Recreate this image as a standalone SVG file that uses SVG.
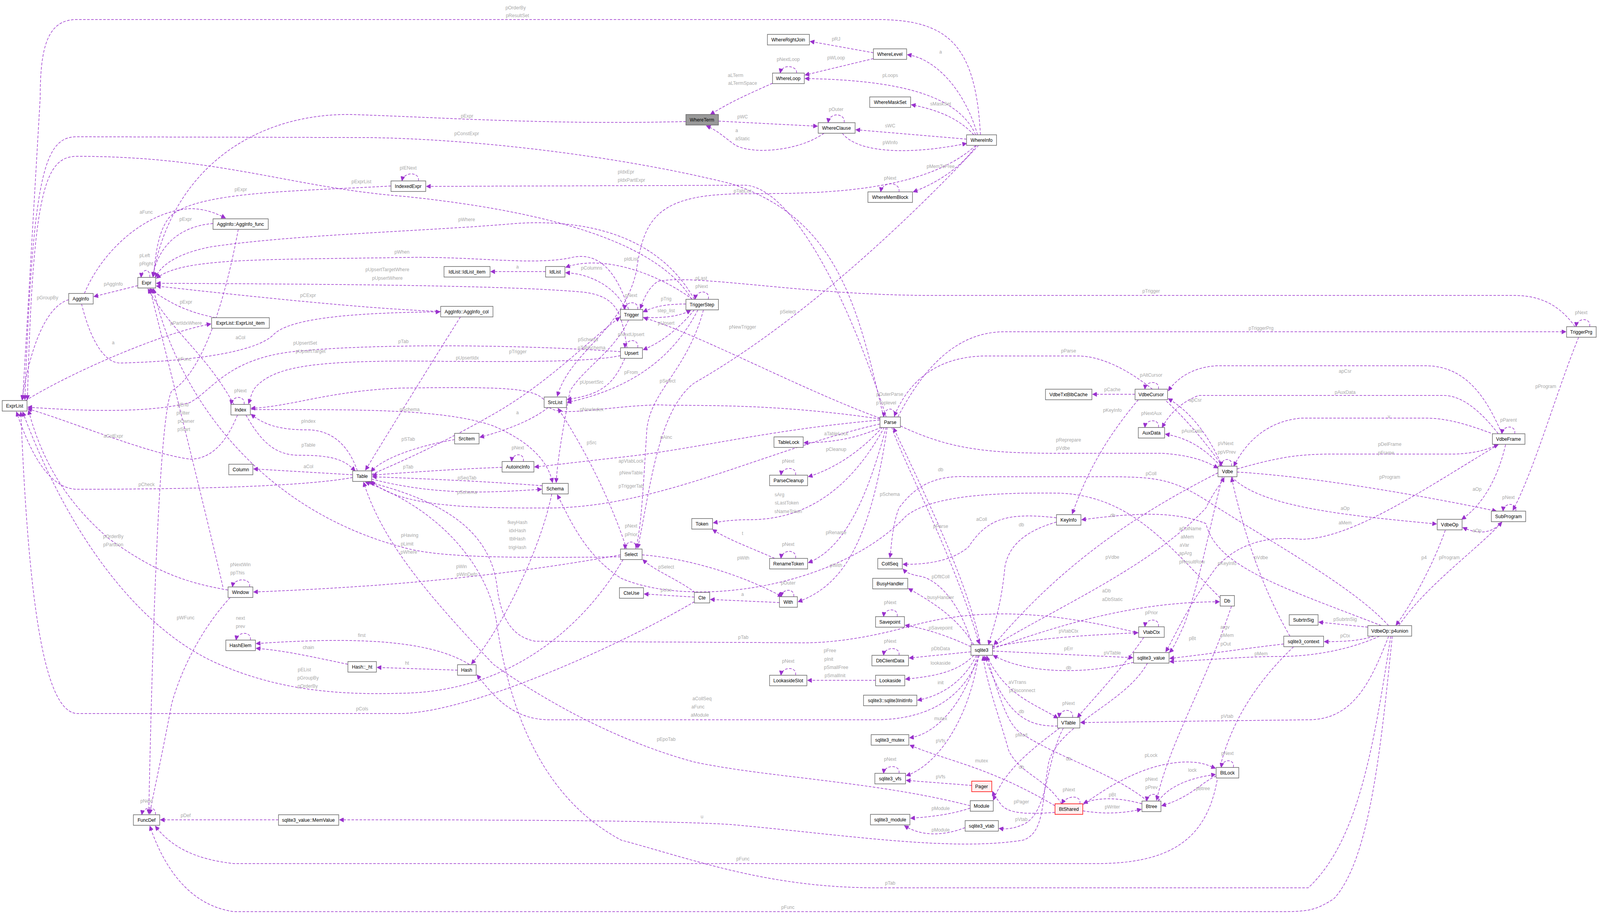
<svg xmlns="http://www.w3.org/2000/svg" width="4374" height="2339" viewBox="0 0 4374 2339">
<style>
.n rect{fill:#fff;stroke:#666;stroke-width:1.5}
.n text{font-family:"Liberation Sans",Arial,sans-serif;font-size:13px;fill:#000;text-anchor:middle}
.hl rect{fill:#999}
.red rect{fill:#fff0f0;stroke:#f00}
.e path{fill:none;stroke:#9a32cd;stroke-width:1.5;stroke-dasharray:7,4;marker-end:url(#a)}
.lb text{font-family:"Liberation Sans",Arial,sans-serif;font-size:13px;fill:#a8a8a8;text-anchor:middle}
</style>
<defs><marker id="a" viewBox="0 0 10 10" refX="10" refY="5" markerUnits="userSpaceOnUse" markerWidth="14" markerHeight="11" orient="auto"><path d="M0,0L10,5L0,10z" fill="#9a32cd" stroke="#9a32cd"/></marker></defs>
<rect width="4374" height="2339" fill="#fff"/>
<g transform="scale(0.9355,1)">
<g class="e" id="connectors">
<path d="M2683,345C2670,120 2600,50 2400,50L210,50C130,50 110,120 110,250L62,1023"/>
<path d="M2390,135L2217,106"/>
<path d="M2390,150L2203,192"/>
<path d="M2675,345C2640,230 2560,150 2483,140"/>
<path d="M2670,345C2620,240 2450,205 2203,201"/>
<path d="M2180,187C2182,168 2140,162 2135,187"/>
<path d="M2114,213C2050,240 2000,260 1944,293"/>
<path d="M2665,345C2620,300 2560,280 2494,268"/>
<path d="M2310,314C2315,290 2270,285 2266,314"/>
<path d="M2645,356L2342,332"/>
<path d="M2305,341C2350,395 2500,395 2645,367"/>
<path d="M2672,372C2630,430 2560,470 2499,491"/>
<path d="M2460,491C2465,465 2415,462 2410,491"/>
<path d="M1966,310L2237,323"/>
<path d="M2255,341C2180,390 2050,395 2010,370C1980,350 1965,335 1933,322"/>
<path d="M1877,311C1500,320 1200,300 960,293C700,290 470,430 418,708"/>
<path d="M2418,1067C2350,800 2300,560 2000,470C1700,400 1300,355 1000,352L210,350C120,350 90,450 68,1023"/>
<path d="M1145,463C1150,440 1105,438 1100,463"/>
<path d="M2425,1067C2300,700 2150,480 2040,474L1167,477"/>
<path d="M1070,476C800,490 520,490 460,560C430,600 425,660 420,708"/>
<path d="M2670,372C2500,520 2100,490 1990,497C1780,505 1760,580 1740,700C1700,850 1560,900 1525,1014"/>
<path d="M1900,766C1800,600 1600,560 1409,572C1200,590 800,600 575,632C480,650 440,680 425,710"/>
<path d="M1720,792C1690,700 1640,640 1560,660C1450,680 1300,655 1100,659C700,665 500,660 428,712"/>
<path d="M1716,890C1700,800 1690,760 1600,748C1400,730 900,727 428,725"/>
<path d="M1206,797C1000,790 700,760 428,732"/>
<path d="M1893,766C1800,620 1500,540 1100,502C800,480 600,400 210,400C120,400 90,500 75,1023"/>
<path d="M1895,766C1800,700 1650,650 1548,684"/>
<path d="M1712,792C1690,740 1620,700 1548,698"/>
<path d="M1493,695L1343,695"/>
<path d="M1745,792C1750,770 1712,768 1708,792"/>
<path d="M1938,766C1945,742 1905,740 1902,766"/>
<path d="M1877,778C1820,778 1790,785 1760,798"/>
<path d="M1760,812C1810,815 1860,810 1890,794"/>
<path d="M1900,793C1850,850 1800,880 1760,895"/>
<path d="M1745,890C1750,866 1712,865 1710,890"/>
<path d="M231,751C280,640 400,540 520,534C560,534 590,545 617,558"/>
<path d="M583,572C480,580 430,640 418,708"/>
<path d="M410,710C412,686 388,686 386,710"/>
<path d="M377,731L257,759"/>
<path d="M188,767C140,780 90,850 60,1023"/>
<path d="M223,777C250,880 290,930 330,929C500,925 700,905 750,855C800,810 1000,800 1204,798"/>
<path d="M652,587C620,750 560,950 470,1000C440,1050 420,1500 407,2083"/>
<path d="M70,1025C200,950 450,850 577,829"/>
<path d="M590,813C520,800 470,780 410,739"/>
<path d="M640,1035C560,900 470,850 405,739"/>
<path d="M1698,900C1400,880 1000,880 800,900C620,920 580,1000 520,1030C400,1060 200,1050 76,1042"/>
<path d="M1698,910C1600,930 1350,925 1100,924C850,925 750,940 700,990C690,1000 685,1020 680,1033"/>
<path d="M2408,1072C2100,1030 1900,1040 1801,1036C1650,1040 1530,1070 1500,1040C1480,990 1400,990 1100,993C900,1000 800,1040 687,1045"/>
<path d="M668,1035C672,1012 636,1010 632,1035"/>
<path d="M650,1062C620,1130 580,1175 520,1175C400,1160 200,1080 76,1046"/>
<path d="M978,1205C950,1130 900,1100 840,1100C760,1100 720,1085 687,1060"/>
<path d="M673,1062C720,1140 760,1165 820,1165C920,1165 945,1180 972,1205"/>
<path d="M965,1215L694,1200"/>
<path d="M965,1222C800,1250 400,1252 210,1252C130,1250 80,1150 45,1054"/>
<path d="M624,1510C500,1490 420,1460 300,1380C200,1300 120,1200 78,1050"/>
<path d="M683,1502C688,1478 640,1478 636,1502"/>
<path d="M610,1502C560,1300 480,1000 410,739"/>
<path d="M630,1529C560,1600 500,1700 470,1800C440,1950 415,2050 410,2083"/>
<path d="M1698,1420C1400,1470 1100,1500 694,1515"/>
<path d="M1705,1432C1600,1600 1400,1770 1100,1774C900,1780 750,1760 600,1700C400,1620 200,1400 62,1054"/>
<path d="M1698,1425C1400,1428 1200,1428 1100,1400C700,1300 480,1000 420,739"/>
<path d="M1715,1405C1660,1250 1580,1120 1527,1045"/>
<path d="M1740,1405C1745,1382 1712,1380 1710,1405"/>
<path d="M1757,1420C1900,1430 2050,1480 2140,1527"/>
<path d="M1500,1043C1450,1080 1370,1105 1313,1119"/>
<path d="M1244,1125C1150,1140 1050,1170 1015,1207"/>
<path d="M1374,1196C1250,1200 1100,1210 1019,1216"/>
<path d="M1432,1181C1437,1158 1402,1158 1400,1181"/>
<path d="M2408,1075C2100,1100 1900,1150 1700,1170C1600,1180 1520,1190 1463,1195"/>
<path d="M1017,1226C1200,1270 1350,1260 1482,1252"/>
<path d="M1484,1243C1300,1230 1150,1225 1019,1220"/>
<path d="M1510,1264C1480,1400 1380,1600 1290,1699"/>
<path d="M1720,819C1680,900 1600,940 1560,1000C1540,1100 1525,1180 1522,1235"/>
<path d="M1017,1214C1100,1180 1200,1140 1350,1060C1500,980 1600,880 1696,812"/>
<path d="M1910,793C1850,900 1750,990 1552,1030"/>
<path d="M1710,917C1680,980 1650,1010 1552,1022"/>
<path d="M1925,793C1880,950 1780,1000 1770,1100C1760,1250 1755,1350 1740,1403"/>
<path d="M2408,1070C2200,1000 1900,850 1761,813"/>
<path d="M2678,372C2500,550 2200,820 1900,980C1800,1050 1780,1250 1745,1403"/>
<path d="M2448,1067C2452,1040 2420,1040 2418,1067"/>
<path d="M2412,1093C2350,1120 2280,1133 2200,1133"/>
<path d="M2415,1093C2350,1160 2280,1200 2212,1220"/>
<path d="M2177,1216C2182,1193 2140,1193 2137,1216"/>
<path d="M2420,1093C2300,1300 2150,1330 2050,1330C2000,1330 1970,1335 1952,1338"/>
<path d="M2120,1429C2050,1400 1990,1380 1950,1355"/>
<path d="M2177,1429C2182,1405 2140,1405 2137,1429"/>
<path d="M2425,1093C2380,1250 2320,1400 2212,1440"/>
<path d="M2428,1093C2380,1400 2300,1500 2184,1540"/>
<path d="M2172,1527C2176,1505 2140,1505 2138,1527"/>
<path d="M2133,1542L1944,1534"/>
<path d="M1900,1528L1763,1520"/>
<path d="M1902,1516C1850,1480 1790,1460 1759,1432"/>
<path d="M1900,1540C1700,1650 1300,1820 1100,1826L210,1826C130,1820 80,1600 57,1054"/>
<path d="M3339,1530C3200,1400 3100,1270 2900,1262C2700,1260 2550,1270 2480,1320C2300,1500 1900,1560 1700,1480C1600,1420 1560,1330 1525,1266"/>
<path d="M2408,1085C2100,1150 1800,1300 1500,1300C1300,1300 1100,1300 1015,1232"/>
<path d="M2440,1093C2480,1200 2600,1400 2680,1648"/>
<path d="M2683,1650C2650,1500 2550,1300 2445,1095"/>
<path d="M3345,1193C3200,1000 3050,911 2950,911L2700,911C2550,911 2480,990 2447,1065"/>
<path d="M2464,1090C2600,1150 2700,1160 2900,1160L3180,1160C3260,1165 3300,1180 3333,1198"/>
<path d="M2457,1067C2550,900 2650,849 2750,849L4285,849"/>
<path d="M4310,836C4260,770 4200,756 4140,756L2550,756C2200,756 1900,700 1800,720C1770,740 1760,770 1752,790"/>
<path d="M4350,836C4355,812 4315,812 4313,836"/>
<path d="M4320,863C4260,1000 4200,1200 4140,1306"/>
<path d="M3106,1009L2990,1009"/>
<path d="M3170,996C3175,973 3135,973 3133,996"/>
<path d="M3115,1023C3000,1150 2960,1250 2934,1315"/>
<path d="M3170,1094C3175,1071 3135,1071 3133,1094"/>
<path d="M3345,1193C3300,1100 3250,1050 3197,1020"/>
<path d="M3340,1193C3300,1150 3250,1120 3189,1111"/>
<path d="M4110,1110C4060,1000 4000,936 3900,936L3330,936C3260,940 3220,970 3197,1000"/>
<path d="M4100,1110C4050,1050 4000,1012 3950,1012L3280,1012C3230,1030 3200,1060 3180,1094"/>
<path d="M4090,1112C4000,1080 3950,1070 3900,1070L3560,1070C3450,1080 3400,1150 3376,1193"/>
<path d="M3385,1200C3500,1170 3550,1162 3650,1162L3980,1162C4040,1160 4070,1150 4100,1138"/>
<path d="M4145,1110C4150,1087 4112,1087 4110,1110"/>
<path d="M4120,1138C4100,1220 4060,1290 4000,1329"/>
<path d="M3385,1208C3600,1220 3900,1270 4095,1308"/>
<path d="M3370,1220C3450,1300 3700,1320 3931,1341"/>
<path d="M4100,1138C3900,1250 3700,1380 3560,1380C3450,1370 3380,1400 3330,1450C3250,1550 3220,1620 3190,1668"/>
<path d="M4110,1335C4080,1370 4040,1365 4003,1350"/>
<path d="M4148,1308C4152,1285 4115,1285 4113,1308"/>
<path d="M3955,1357C3920,1450 3860,1550 3820,1600"/>
<path d="M3828,1601C3900,1500 4050,1400 4110,1336"/>
<path d="M3370,1193C3375,1170 3343,1170 3340,1193"/>
<path d="M3333,1210C3100,1320 2900,1450 2720,1650"/>
<path d="M2891,1336C2800,1360 2760,1400 2750,1450C2740,1550 2720,1600 2705,1650"/>
<path d="M2891,1325C2750,1310 2700,1330 2650,1400C2600,1440 2520,1445 2471,1444"/>
<path d="M3800,1601C3700,1500 3500,1400 3300,1280C3200,1220 3150,1220 3000,1220L2650,1220C2550,1215 2500,1250 2460,1300C2440,1350 2440,1400 2435,1427"/>
<path d="M2660,1650C2620,1520 2550,1480 2520,1475C2490,1470 2480,1465 2471,1456"/>
<path d="M2665,1650C2620,1580 2550,1540 2486,1506"/>
<path d="M3780,1601C3500,1500 3330,1450 3300,1340C3200,1300 3050,1320 2960,1330"/>
<path d="M3345,1220C3310,1350 3280,1500 3240,1600C3220,1640 3210,1660 3200,1670"/>
<path d="M2716,1655C2900,1550 3150,1450 3300,1300C3320,1260 3340,1240 3350,1222"/>
<path d="M3530,1628C3450,1500 3400,1350 3370,1222"/>
<path d="M2716,1660C2900,1600 3100,1540 3337,1540"/>
<path d="M3370,1551C3300,1750 3200,1900 3165,2048"/>
<path d="M2657,1655C2600,1630 2540,1610 2477,1600"/>
<path d="M2455,1578C2460,1555 2420,1555 2418,1578"/>
<path d="M2657,1668L2488,1684"/>
<path d="M2460,1677C2465,1654 2420,1654 2418,1677"/>
<path d="M2665,1677C2620,1720 2560,1730 2478,1738"/>
<path d="M2396,1741L2210,1741"/>
<path d="M2177,1728C2182,1705 2140,1705 2137,1728"/>
<path d="M2672,1677C2640,1740 2580,1780 2511,1792"/>
<path d="M2680,1677C2640,1780 2550,1840 2400,1842L1500,1842C1400,1840 1350,1780 1305,1727"/>
<path d="M2716,1656C2850,1630 3000,1625 3114,1619"/>
<path d="M3170,1604C3175,1581 3135,1581 3133,1604"/>
<path d="M2716,1666L3100,1683"/>
<path d="M3130,1631C3080,1700 3000,1780 2948,1836"/>
<path d="M3102,1695C2950,1730 2800,1720 2718,1677"/>
<path d="M2700,1677C2750,1780 2830,1800 2895,1838"/>
<path d="M2894,1858C2800,1860 2750,1820 2694,1679"/>
<path d="M2935,1836C2940,1812 2900,1812 2898,1836"/>
<path d="M2900,1863C2820,1920 2750,1970 2718,2048"/>
<path d="M2910,1863C2860,1950 2870,2080 2800,2110C2770,2122 2750,2122 2734,2120"/>
<path d="M2675,1677C2640,1800 2560,1880 2489,1888"/>
<path d="M2678,1677C2650,1850 2560,1960 2480,1985"/>
<path d="M2460,1979C2465,1956 2420,1956 2418,1979"/>
<path d="M2659,2010L2480,1997"/>
<path d="M2887,2079C2800,2085 2760,2080 2740,2060C2725,2040 2720,2035 2716,2025"/>
<path d="M2887,2062C2700,1960 2600,1950 2490,1907"/>
<path d="M2905,2057C2860,1990 2790,1980 2760,1920C2740,1850 2700,1750 2690,1679"/>
<path d="M3140,2050C3050,1980 2900,1940 2800,1880C2760,1860 2740,1800 2700,1679"/>
<path d="M2955,2057C2960,2034 2920,2034 2905,2057"/>
<path d="M2963,2075C3030,2085 3080,2080 3123,2071"/>
<path d="M3125,2057C3060,2040 3000,2040 2965,2056"/>
<path d="M3170,2050C3175,2027 3140,2027 3138,2050"/>
<path d="M3328,1986C3290,2000 3260,2040 3179,2062"/>
<path d="M2963,2060C3050,2000 3150,1950 3250,1950C3290,1950 3310,1960 3326,1966"/>
<path d="M3170,2050C3200,2010 3260,1990 3326,1982"/>
<path d="M3375,1964C3380,1941 3345,1941 3342,1964"/>
<path d="M3743,1605L3609,1592"/>
<path d="M3760,1628C3720,1640 3680,1642 3624,1642"/>
<path d="M3775,1628C3700,1660 3600,1680 3500,1680C3400,1680 3300,1690 3201,1693"/>
<path d="M3513,1648C3400,1660 3300,1675 3201,1685"/>
<path d="M3800,1628C3750,1750 3700,1842 3580,1842L2957,1849"/>
<path d="M3540,1655C3400,1780 3350,1900 3330,2000C3300,2150 3200,2210 3000,2210L640,2210C540,2200 470,2170 425,2114"/>
<path d="M3810,1628C3780,1900 3750,2200 3650,2300C3600,2330 3580,2333 3500,2333L640,2333C540,2320 460,2250 410,2114"/>
<path d="M3806,1628C3760,1900 3720,2150 3580,2272L2400,2272C2100,2272 1900,2200 1700,2150C1500,2050 1400,1850 1360,1600C1340,1450 1200,1300 1000,1234"/>
<path d="M3140,1697C3080,1800 2900,1850 2870,1950C2850,2050 2860,2130 2800,2150C2600,2180 2300,2135 2000,2110C1800,2098 1200,2098 929,2098"/>
<path d="M762,2098L439,2098"/>
<path d="M425,2085C430,2062 392,2062 388,2085"/>
<path d="M1303,1712C1200,1640 1000,1628 701,1647"/>
<path d="M952,1700C850,1680 780,1665 701,1659"/>
<path d="M1252,1715L1032,1708"/>
<path d="M685,1638C690,1615 650,1615 646,1638"/>
<path d="M2655,2068C2600,2085 2550,2090 2492,2094"/>
<path d="M2641,2118C2580,2140 2520,2140 2475,2113"/>
<path d="M2655,2062C2400,2000 2100,1990 1900,1950C1700,1900 1500,1800 1350,1700C1200,1550 1050,1400 995,1234"/>
<path d="M3116,1620C2900,1570 2700,1550 2500,1600C2350,1640 2250,1645 2200,1645L1465,1641C1400,1630 1370,1580 1360,1500C1340,1350 1200,1280 1010,1234"/>
<path d="M687,1048C900,1050 1200,1040 1350,1090C1450,1130 1500,1180 1512,1235"/>
<path d="M1260,811C1200,900 1100,1050 1000,1203"/>
</g>
<g class="lb" id="labels">
<text x="1411" y="24">pOrderBy</text><text x="1416" y="44">pResultSet</text>
<text x="2288" y="104">pRJ</text><text x="2288" y="152">pWLoop</text><text x="2574" y="137">a</text>
<text x="2436" y="197">pLoops</text><text x="2157" y="156">pNextLoop</text>
<text x="2013" y="197">aLTerm</text><text x="2032" y="217">aLTermSpace</text>
<text x="2574" y="270">sMaskSet</text><text x="2288" y="284">pOuter</text><text x="2436" y="326">sWC</text>
<text x="2436" y="369">pWInfo</text><text x="2574" y="430">pMemToFree</text><text x="2436" y="460">pNext</text>
<text x="2032" y="303">pWC</text><text x="2016" y="338">a</text><text x="2032" y="359">aStatic</text>
<text x="1278" y="301">pExpr</text><text x="1277" y="346">pConstExpr</text><text x="1117" y="434">pIENext</text>
<text x="1713" y="444">pIdxEpr</text><text x="1728" y="465">pIdxPartExpr</text>
<text x="989" y="469">pExprList</text><text x="659" y="489">pExpr</text><text x="2032" y="493">pTabList</text>
<text x="1277" y="566">pWhere</text><text x="1100" y="649">pWhen</text>
<text x="1060" y="694">pUpsertTargetWhere</text><text x="1060" y="716">pUpsertWhere</text>
<text x="843" y="760">pCExpr</text><text x="1727" y="667">pIdList</text><text x="1619" y="690">pColumns</text>
<text x="1416" y="687">a</text><text x="1727" y="760">pNext</text><text x="1919" y="716">pLast</text><text x="1920" y="737">pNext</text>
<text x="1823" y="769">pTrig</text><text x="1823" y="799">step_list</text><text x="1823" y="831">pUpsert</text>
<text x="1727" y="860">pNextUpsert</text><text x="400" y="547">aFunc</text><text x="508" y="565">pExpr</text>
<text x="396" y="658">pLeft</text><text x="400" y="679">pRight</text><text x="310" y="731">pAggInfo</text>
<text x="130" y="766">pGroupBy</text><text x="658" y="868">aCol</text><text x="505" y="923">pFunc</text>
<text x="310" y="881">a</text><text x="509" y="777">pExpr</text><text x="509" y="831">pPartIdxWhere</text>
<text x="835" y="882">pUpsertSet</text><text x="850" y="903">pUpsertTarget</text><text x="1279" y="920">pUpsertIdx</text>
<text x="1619" y="1052">pNewIndex</text><text x="658" y="1004">pNext</text><text x="310" y="1120">aColExpr</text>
<text x="844" y="1082">pIndex</text><text x="844" y="1143">pTable</text><text x="844" y="1198">aCol</text>
<text x="401" y="1244">pCheck</text><text x="310" y="1377">pOrderBy</text><text x="310" y="1398">pPartition</text>
<text x="658" y="1449">pNextWin</text><text x="650" y="1470">ppThis</text>
<text x="501" y="1040">pEnd</text><text x="501" y="1061">pFilter</text><text x="509" y="1082">pOwner</text><text x="503" y="1103">pStart</text>
<text x="508" y="1585">pWFunc</text><text x="1263" y="1454">pWin</text><text x="1278" y="1474">pWinDefn</text>
<text x="833" y="1718">pEList</text><text x="843" y="1739">pGroupBy</text><text x="842" y="1760">pOrderBy</text>
<text x="1121" y="1374">pHaving</text><text x="1114" y="1396">pLimit</text><text x="1119" y="1417">pWhere</text>
<text x="1619" y="1137">pSrc</text><text x="1727" y="1350">pNext</text><text x="1727" y="1372">pPrior</text>
<text x="2034" y="1432">pWith</text><text x="1416" y="1060">a</text><text x="1117" y="1128">pSTab</text>
<text x="1117" y="1199">pTab</text><text x="1417" y="1150">pNext</text><text x="1823" y="1123">pAinc</text>
<text x="1278" y="1264">pSchema</text><text x="1278" y="1227">pSeqTab</text>
<text x="1416" y="1341">fkeyHash</text><text x="1416" y="1362">idxHash</text><text x="1416" y="1383">tblHash</text><text x="1416" y="1405">trigHash</text>
<text x="1609" y="873">pSchema</text><text x="1619" y="894">pTabSchema</text><text x="1417" y="904">pTrigger</text>
<text x="1727" y="957">pFrom</text><text x="1619" y="982">pUpsertSrc</text><text x="1827" y="979">pSelect</text>
<text x="2032" y="841">pNewTrigger</text><text x="2156" y="802">pSelect</text>
<text x="2435" y="1013">pOuterParse</text><text x="2425" y="1035">pToplevel</text>
<text x="2288" y="1114">aTableLock</text><text x="2288" y="1154">pCleanup</text><text x="2157" y="1184">pNext</text>
<text x="2133" y="1270">sArg</text><text x="2153" y="1291">sLastToken</text><text x="2157" y="1313">sNameToken</text>
<text x="2032" y="1369">t</text><text x="2157" y="1397">pNext</text><text x="2288" y="1367">pRename</text>
<text x="2288" y="1451">pWith</text><text x="2157" y="1496">pOuter</text><text x="2032" y="1525">a</text>
<text x="1823" y="1514">pUse</text><text x="1823" y="1455">pSelect</text><text x="991" y="1818">pCols</text>
<text x="2435" y="1269">pSchema</text>
<text x="1727" y="1184">apVtabLock</text><text x="1727" y="1214">pNewTable</text><text x="1727" y="1248">pTriggerTab</text>
<text x="2574" y="1206">db</text><text x="2574" y="1351">pParse</text><text x="2924" y="902">pParse</text>
<text x="2924" y="1130">pReprepare</text><text x="2909" y="1151">pVdbe</text><text x="3451" y="844">pTriggerPrg</text>
<text x="3150" y="749">pTrigger</text><text x="4327" y="804">pNext</text><text x="4230" y="993">pProgram</text>
<text x="3044" y="1001">pCache</text><text x="3150" y="964">pAltCursor</text><text x="3044" y="1054">pKeyInfo</text>
<text x="3151" y="1062">pNextAux</text><text x="3271" y="1028">apCsr</text><text x="3262" y="1107">pAuxData</text>
<text x="3681" y="954">apCsr</text><text x="3681" y="1008">pAuxData</text><text x="3801" y="1070">v</text>
<text x="3803" y="1141">pDelFrame</text><text x="3793" y="1163">pFrame</text><text x="4128" y="1079">pParent</text>
<text x="4042" y="1256">aOp</text><text x="3803" y="1225">pProgram</text><text x="3681" y="1305">aOp</text>
<text x="3681" y="1342">aMem</text><text x="4042" y="1362">aOp</text><text x="4128" y="1277">pNext</text>
<text x="3897" y="1431">p4</text><text x="3966" y="1431">pProgram</text>
<text x="3354" y="1139">pVNext</text><text x="3357" y="1161">ppVPrev</text>
<text x="3045" y="1323">db</text><text x="2795" y="1347">db</text><text x="2686" y="1333">aColl</text>
<text x="3150" y="1216">pColl</text><text x="2574" y="1480">pDfltColl</text><text x="2574" y="1533">busyHandler</text>
<text x="3358" y="1446">pKeyInfo</text>
<text x="3257" y="1357">aColName</text><text x="3249" y="1378">aMem</text><text x="3241" y="1399">aVar</text><text x="3244" y="1420">apArg</text><text x="3262" y="1442">pResultRow</text>
<text x="3044" y="1430">pVdbe</text><text x="3451" y="1431">pVdbe</text>
<text x="3028" y="1516">aDb</text><text x="3044" y="1538">aDbStatic</text><text x="3263" y="1638">pBt</text>
<text x="2574" y="1611">pSavepoint</text><text x="2436" y="1546">pNext</text><text x="2574" y="1664">pDbData</text>
<text x="2436" y="1645">pNext</text><text x="2574" y="1701">lookaside</text>
<text x="2271" y="1669">pFree</text><text x="2268" y="1691">pInit</text><text x="2288" y="1712">pSmallFree</text><text x="2285" y="1733">pSmallInit</text>
<text x="2157" y="1696">pNext</text><text x="2574" y="1751">init</text>
<text x="1921" y="1792">aCollSeq</text><text x="1910" y="1813">aFunc</text><text x="1915" y="1834">aModule</text>
<text x="2924" y="1619">pVtabCtx</text><text x="3151" y="1572">pPrior</text><text x="2924" y="1664">pErr</text>
<text x="3044" y="1675">pVTable</text><text x="2924" y="1713">db</text>
<text x="2784" y="1750">aVTrans</text><text x="2797" y="1771">pDisconnect</text>
<text x="2795" y="1825">db</text><text x="2924" y="1804">pNext</text><text x="2795" y="1885">pMod</text><text x="2795" y="2101">pVtab</text>
<text x="2574" y="1843">mutex</text><text x="2574" y="1900">pVfs</text><text x="2436" y="1947">pNext</text>
<text x="2574" y="1992">pVfs</text><text x="2795" y="2056">pPager</text><text x="2686" y="1951">mutex</text>
<text x="2795" y="1967">db</text><text x="2924" y="1946">db</text><text x="2925" y="2025">pNext</text>
<text x="3044" y="2069">pWriter</text><text x="3044" y="2038">pBt</text>
<text x="3151" y="1998">pNext</text><text x="3151" y="2019">pPrev</text>
<text x="3292" y="2022">pBtree</text><text x="3150" y="1937">pLock</text><text x="3263" y="1975">lock</text><text x="3359" y="1932">pNext</text>
<text x="3681" y="1589">pSubrtnSig</text><text x="3681" y="1631">pCtx</text><text x="3451" y="1677">pMem</text>
<text x="3352" y="1609">argv</text><text x="3358" y="1630">pMem</text><text x="3354" y="1652">pOut</text>
<text x="3358" y="1837">pVtab</text><text x="2033" y="2202">pFunc</text><text x="2156" y="2326">pFunc</text>
<text x="2436" y="2264">pTab</text><text x="1921" y="2094">u</text><text x="508" y="2091">pDef</text>
<text x="401" y="2054">pNext</text><text x="990" y="1630">first</text><text x="844" y="1661">chain</text>
<text x="1114" y="1701">ht</text><text x="658" y="1586">next</text><text x="658" y="1607">prev</text>
<text x="2574" y="2073">pModule</text><text x="2574" y="2128">pModule</text><text x="1823" y="1896">pEpoTab</text>
<text x="2034" y="1635">pTab</text><text x="1121" y="1052">pSchema</text><text x="1104" y="878">pTab</text>
</g>
<g id="WhereRightJoin" class="n"><rect x="2100" y="88" width="115" height="27"/><text x="2157" y="106">WhereRightJoin</text></g>
<g id="WhereLevel" class="n"><rect x="2390" y="125" width="91" height="27"/><text x="2435" y="143">WhereLevel</text></g>
<g id="WhereLoop" class="n"><rect x="2114" y="187" width="87" height="27"/><text x="2157" y="205">WhereLoop</text></g>
<g id="WhereMaskSet" class="n"><rect x="2380" y="248" width="112" height="27"/><text x="2436" y="266">WhereMaskSet</text></g>
<g id="WhereTerm" class="n hl"><rect x="1877" y="293" width="89" height="27"/><text x="1921" y="311">WhereTerm</text></g>
<g id="WhereClause" class="n"><rect x="2239" y="314" width="101" height="27"/><text x="2289" y="332">WhereClause</text></g>
<g id="WhereInfo" class="n"><rect x="2645" y="345" width="82" height="27"/><text x="2686" y="363">WhereInfo</text></g>
<g id="WhereMemBlock" class="n"><rect x="2375" y="491" width="122" height="27"/><text x="2436" y="509">WhereMemBlock</text></g>
<g id="IndexedExpr" class="n"><rect x="1070" y="463" width="95" height="27"/><text x="1117" y="481">IndexedExpr</text></g>
<g id="AggInfo_func" class="n"><rect x="583" y="560" width="151" height="27"/><text x="658" y="578">AggInfo::AggInfo_func</text></g>
<g id="Expr" class="n"><rect x="377" y="710" width="49" height="27"/><text x="401" y="728">Expr</text></g>
<g id="AggInfo" class="n"><rect x="188" y="751" width="67" height="27"/><text x="221" y="769">AggInfo</text></g>
<g id="IdList_item" class="n"><rect x="1215" y="682" width="126" height="27"/><text x="1278" y="700">IdList::IdList_item</text></g>
<g id="IdList" class="n"><rect x="1493" y="682" width="53" height="27"/><text x="1519" y="700">IdList</text></g>
<g id="TriggerStep" class="n"><rect x="1877" y="766" width="89" height="27"/><text x="1921" y="784">TriggerStep</text></g>
<g id="AggInfo_col" class="n"><rect x="1206" y="784" width="143" height="27"/><text x="1277" y="802">AggInfo::AggInfo_col</text></g>
<g id="Trigger" class="n"><rect x="1698" y="792" width="61" height="27"/><text x="1728" y="810">Trigger</text></g>
<g id="ExprList_item" class="n"><rect x="579" y="813" width="158" height="27"/><text x="658" y="831">ExprList::ExprList_item</text></g>
<g id="TriggerPrg" class="n"><rect x="4287" y="836" width="81" height="27"/><text x="4327" y="854">TriggerPrg</text></g>
<g id="Upsert" class="n"><rect x="1698" y="890" width="60" height="27"/><text x="1728" y="908">Upsert</text></g>
<g id="VdbeTxtBlbCache" class="n"><rect x="2861" y="996" width="127" height="27"/><text x="2924" y="1014">VdbeTxtBlbCache</text></g>
<g id="VdbeCursor" class="n"><rect x="3106" y="996" width="89" height="27"/><text x="3150" y="1014">VdbeCursor</text></g>
<g id="SrcList" class="n"><rect x="1489" y="1016" width="61" height="27"/><text x="1519" y="1034">SrcList</text></g>
<g id="ExprList" class="n"><rect x="6" y="1025" width="68" height="27"/><text x="40" y="1043">ExprList</text></g>
<g id="Index" class="n"><rect x="632" y="1035" width="53" height="27"/><text x="658" y="1053">Index</text></g>
<g id="Parse" class="n"><rect x="2408" y="1067" width="56" height="27"/><text x="2436" y="1085">Parse</text></g>
<g id="AuxData" class="n"><rect x="3115" y="1094" width="72" height="27"/><text x="3151" y="1112">AuxData</text></g>
<g id="SrcItem" class="n"><rect x="1244" y="1109" width="67" height="27"/><text x="1277" y="1127">SrcItem</text></g>
<g id="VdbeFrame" class="n"><rect x="4084" y="1110" width="89" height="27"/><text x="4128" y="1128">VdbeFrame</text></g>
<g id="TableLock" class="n"><rect x="2118" y="1118" width="80" height="27"/><text x="2158" y="1136">TableLock</text></g>
<g id="AutoincInfo" class="n"><rect x="1374" y="1181" width="87" height="27"/><text x="1417" y="1199">AutoincInfo</text></g>
<g id="Column" class="n"><rect x="626" y="1188" width="66" height="27"/><text x="659" y="1206">Column</text></g>
<g id="Vdbe" class="n"><rect x="3333" y="1193" width="52" height="27"/><text x="3359" y="1211">Vdbe</text></g>
<g id="Table" class="n"><rect x="965" y="1205" width="52" height="27"/><text x="991" y="1223">Table</text></g>
<g id="ParseCleanup" class="n"><rect x="2106" y="1216" width="104" height="27"/><text x="2158" y="1234">ParseCleanup</text></g>
<g id="Schema" class="n"><rect x="1484" y="1237" width="71" height="27"/><text x="1519" y="1255">Schema</text></g>
<g id="SubProgram" class="n"><rect x="4081" y="1308" width="94" height="27"/><text x="4128" y="1326">SubProgram</text></g>
<g id="KeyInfo" class="n"><rect x="2891" y="1317" width="67" height="27"/><text x="2924" y="1335">KeyInfo</text></g>
<g id="Token" class="n"><rect x="1893" y="1327" width="57" height="27"/><text x="1921" y="1345">Token</text></g>
<g id="VdbeOp" class="n"><rect x="3933" y="1329" width="68" height="27"/><text x="3967" y="1347">VdbeOp</text></g>
<g id="Select" class="n"><rect x="1698" y="1405" width="59" height="27"/><text x="1727" y="1423">Select</text></g>
<g id="CollSeq" class="n"><rect x="2402" y="1429" width="67" height="27"/><text x="2435" y="1447">CollSeq</text></g>
<g id="RenameToken" class="n"><rect x="2106" y="1429" width="104" height="27"/><text x="2158" y="1447">RenameToken</text></g>
<g id="BusyHandler" class="n"><rect x="2388" y="1480" width="96" height="27"/><text x="2436" y="1498">BusyHandler</text></g>
<g id="Window" class="n"><rect x="624" y="1502" width="68" height="27"/><text x="658" y="1520">Window</text></g>
<g id="CteUse" class="n"><rect x="1695" y="1504" width="66" height="27"/><text x="1728" y="1522">CteUse</text></g>
<g id="Cte" class="n"><rect x="1900" y="1516" width="42" height="27"/><text x="1921" y="1534">Cte</text></g>
<g id="Db" class="n"><rect x="3339" y="1524" width="39" height="27"/><text x="3358" y="1542">Db</text></g>
<g id="With" class="n"><rect x="2133" y="1527" width="49" height="27"/><text x="2157" y="1545">With</text></g>
<g id="SubrtnSig" class="n"><rect x="3528" y="1573" width="79" height="27"/><text x="3567" y="1591">SubrtnSig</text></g>
<g id="Savepoint" class="n"><rect x="2396" y="1578" width="79" height="27"/><text x="2435" y="1596">Savepoint</text></g>
<g id="p4union" class="n"><rect x="3743" y="1601" width="120" height="27"/><text x="3803" y="1619">VdbeOp::p4union</text></g>
<g id="VtabCtx" class="n"><rect x="3116" y="1604" width="70" height="27"/><text x="3151" y="1622">VtabCtx</text></g>
<g id="sqlite3_context" class="n"><rect x="3513" y="1628" width="109" height="27"/><text x="3567" y="1646">sqlite3_context</text></g>
<g id="HashElem" class="n"><rect x="618" y="1638" width="81" height="27"/><text x="658" y="1656">HashElem</text></g>
<g id="sqlite3" class="n"><rect x="2657" y="1650" width="59" height="27"/><text x="2686" y="1668">sqlite3</text></g>
<g id="sqlite3_value" class="n"><rect x="3102" y="1670" width="97" height="27"/><text x="3150" y="1688">sqlite3_value</text></g>
<g id="DbClientData" class="n"><rect x="2386" y="1677" width="100" height="27"/><text x="2436" y="1695">DbClientData</text></g>
<g id="Hash_ht" class="n"><rect x="952" y="1693" width="78" height="27"/><text x="991" y="1711">Hash::_ht</text></g>
<g id="Hash" class="n"><rect x="1252" y="1701" width="51" height="27"/><text x="1277" y="1719">Hash</text></g>
<g id="LookasideSlot" class="n"><rect x="2106" y="1728" width="102" height="27"/><text x="2157" y="1746">LookasideSlot</text></g>
<g id="Lookaside" class="n"><rect x="2396" y="1728" width="80" height="27"/><text x="2436" y="1746">Lookaside</text></g>
<g id="sqlite3InitInfo" class="n"><rect x="2363" y="1779" width="146" height="27"/><text x="2436" y="1797">sqlite3::sqlite3InitInfo</text></g>
<g id="VTable" class="n"><rect x="2894" y="1836" width="61" height="27"/><text x="2924" y="1854">VTable</text></g>
<g id="sqlite3_mutex" class="n"><rect x="2384" y="1880" width="103" height="27"/><text x="2435" y="1898">sqlite3_mutex</text></g>
<g id="BtLock" class="n"><rect x="3328" y="1964" width="62" height="27"/><text x="3359" y="1982">BtLock</text></g>
<g id="sqlite3_vfs" class="n"><rect x="2394" y="1979" width="84" height="27"/><text x="2436" y="1997">sqlite3_vfs</text></g>
<g id="Pager" class="n red"><rect x="2659" y="1999" width="55" height="27"/><text x="2686" y="2017">Pager</text></g>
<g id="Module" class="n"><rect x="2655" y="2049" width="63" height="27"/><text x="2686" y="2067">Module</text></g>
<g id="Btree" class="n"><rect x="3125" y="2050" width="52" height="27"/><text x="3151" y="2068">Btree</text></g>
<g id="BtShared" class="n red"><rect x="2887" y="2057" width="76" height="27"/><text x="2925" y="2075">BtShared</text></g>
<g id="sqlite3_module" class="n"><rect x="2382" y="2084" width="108" height="27"/><text x="2436" y="2102">sqlite3_module</text></g>
<g id="FuncDef" class="n"><rect x="365" y="2085" width="72" height="27"/><text x="401" y="2103">FuncDef</text></g>
<g id="MemValue" class="n"><rect x="762" y="2085" width="165" height="27"/><text x="844" y="2103">sqlite3_value::MemValue</text></g>
<g id="sqlite3_vtab" class="n"><rect x="2641" y="2100" width="91" height="27"/><text x="2686" y="2118">sqlite3_vtab</text></g>
</g>
</svg>
